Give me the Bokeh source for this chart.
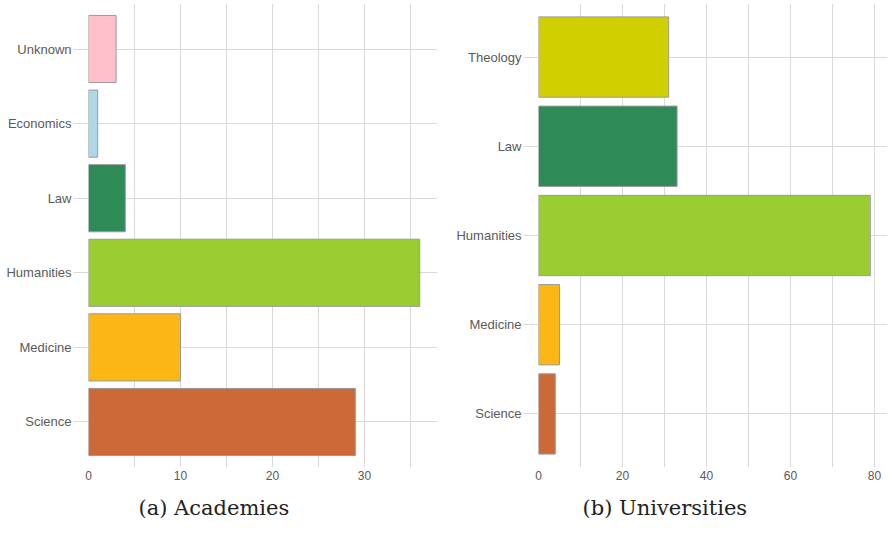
from bokeh.plotting import figure
from bokeh.layouts import row
from bokeh.models import FactorRange, FixedTicker, Range1d, Title, ColumnDataSource
from bokeh.embed import file_html
from bokeh.resources import INLINE

# Academies (bottom to top)
acad_cats = ["Science", "Medicine", "Humanities", "Law", "Economics", "Unknown"]
acad_vals = [29, 10, 36, 4, 1, 3]
acad_colors = ["#CD6839", "#FDB714", "#9ACD32", "#2E8B57", "#ADD8E6", "#FFC0CB"]
acad_ticks = [0, 10, 20, 30]
acad_grid = [0, 5, 10, 15, 20, 25, 30, 35]

# Universities (bottom to top)
univ_cats = ["Science", "Medicine", "Humanities", "Law", "Theology"]
univ_vals = [4, 5, 79, 33, 31]
univ_colors = ["#CD6839", "#FDB714", "#9ACD32", "#2E8B57", "#D0CF00"]
univ_ticks = [0, 20, 40, 60, 80]
univ_grid = [0, 10, 20, 30, 40, 50, 60, 70, 80]

GRID = "#d9d9d9"


def make(cats, vals, colors, ticks, grid, xmax, pad, caption, cap_offset,
         border_left, border_right, frame_w):
    src = ColumnDataSource(dict(cat=cats, val=vals, color=colors))
    p = figure(y_range=FactorRange(factors=cats, range_padding=pad,
                                   range_padding_units="absolute"),
               x_range=Range1d(0, xmax),
               frame_width=frame_w, frame_height=464,
               min_border_left=border_left, min_border_right=border_right,
               min_border_top=3, min_border_bottom=0,
               output_backend="svg", toolbar_location=None)
    p.hbar(y="cat", right="val", left=0, height=0.9, fill_color="color",
           line_color="#9a9a9a", line_width=1, source=src)
    p.outline_line_color = None
    p.background_fill_color = "white"
    p.border_fill_color = "white"

    p.xaxis.ticker = FixedTicker(ticks=ticks)
    p.xgrid.ticker = FixedTicker(ticks=grid)
    p.xgrid.grid_line_color = GRID
    p.ygrid.grid_line_color = GRID
    p.xaxis.axis_line_color = None
    p.yaxis.axis_line_color = None
    p.xaxis.major_tick_line_color = None
    p.xaxis.minor_tick_line_color = None
    p.xaxis.major_tick_out = 0
    p.xaxis.major_tick_in = 0
    p.yaxis.major_tick_line_color = GRID
    p.yaxis.major_tick_out = 15
    p.yaxis.major_tick_in = 0
    p.yaxis.major_label_standoff = 2
    p.xaxis.major_label_standoff = 3
    p.yaxis.major_label_text_font_size = "13px"
    p.xaxis.major_label_text_font_size = "12px"
    for ax in (p.xaxis, p.yaxis):
        ax.major_label_text_font = "Liberation Sans"
        ax.major_label_text_color = "#5a5a5a"

    t = Title(text=caption, align="left", offset=cap_offset,
              text_font="DejaVu Serif", text_font_size="21px",
              text_font_style="normal", text_color="#222222", standoff=22)
    p.add_layout(t, "below")
    return p


p1 = make(acad_cats, acad_vals, acad_colors, acad_ticks, acad_grid, 37.93, 0.11,
          "(a) Academies", 50, 88, 3, 349)
p2 = make(univ_cats, univ_vals, univ_colors, univ_ticks, univ_grid, 83.1, 0.1,
          "(b) Universities", 44, 98, 1, 349)

layout = row(p1, p2)
open("out.html", "w").write(file_html(layout, INLINE))
